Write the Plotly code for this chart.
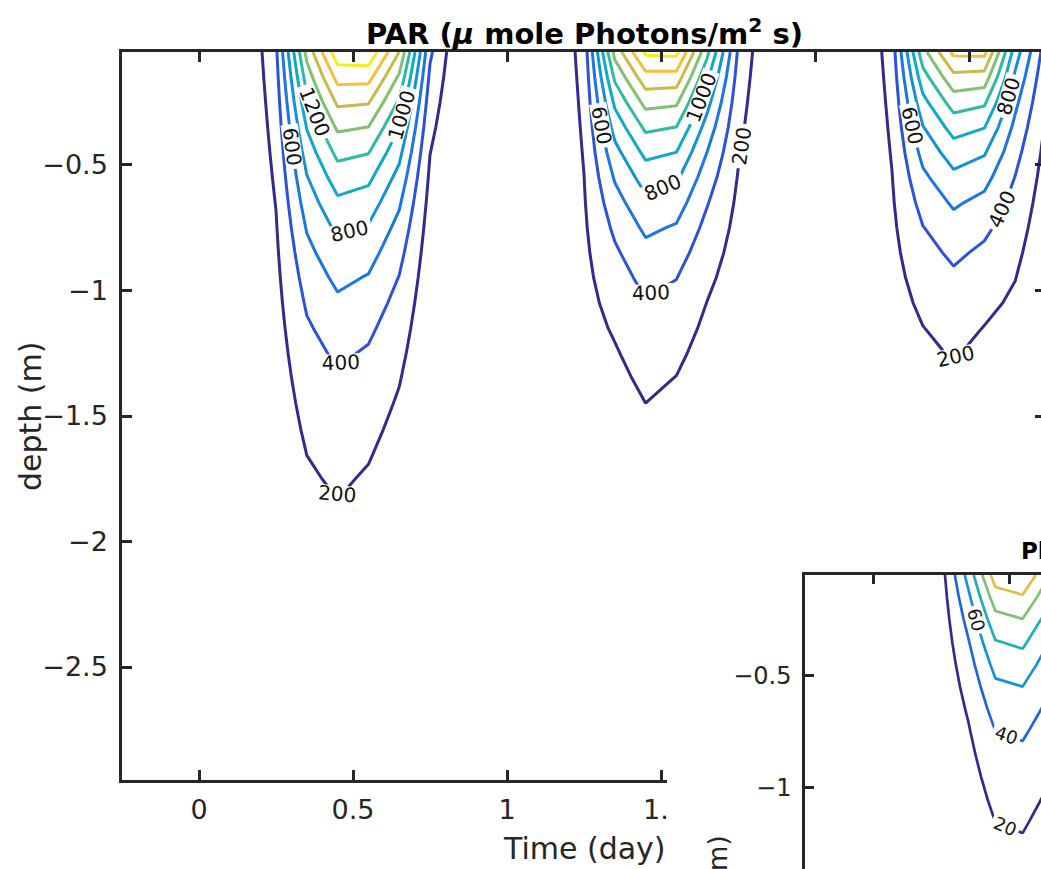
import numpy as np
import plotly.graph_objects as go

# ---------------- data ----------------
# model grid: time (day) columns and depth (m) rows
time_days = [-0.25, -0.15, -0.05, 0.05, 0.15, 0.25, 0.35, 0.45, 0.55, 0.65, 0.75,
             0.85, 0.95, 1.05, 1.15, 1.25, 1.35, 1.45, 1.55, 1.65, 1.75,
             1.85, 1.95, 2.05, 2.15, 2.25, 2.35, 2.45, 2.55, 2.65, 2.75]
depth_m = [-0.05, -0.15, -0.25, -0.35, -0.45, -0.55, -0.65, -0.75, -0.85, -0.95,
           -1.05, -1.15, -1.25, -1.35, -1.45, -1.55, -1.65, -1.75, -1.85, -1.95,
           -2.05, -2.15, -2.25, -2.35, -2.45, -2.55, -2.65, -2.75, -2.85, -2.95]
# PAR in the top model layer for each time column (umol photons m-2 s-1)
surface_par = [0, 0, 0, 0, 0, 366, 1466, 2136, 2159, 1600, 435,
               0, 0, 0, 0, 281, 1471, 2040, 2060, 1250, 380,
               0, 0, 0, 0, 300, 1330, 1850, 1860, 900, 300]
# light attenuation coefficient for each time column (1/m)
attenuation = [1.5, 1.5, 1.5, 1.5, 1.5, 0.96, 1.24, 1.33, 1.45, 1.56, 1.9,
               1.5, 1.5, 1.5, 1.5, 0.7, 1.73, 1.66, 1.81, 1.85, 1.37,
               1.5, 1.5, 1.5, 1.5, 0.86, 1.74, 1.8, 2.05, 1.65, 1.8]
par_levels = dict(start=200, end=2000, size=200)

# inset panel
inset_time = [-0.25, -0.15, -0.05, 0.05, 0.15, 0.25, 0.35, 0.45, 0.55, 0.65, 0.75]
inset_surface = [0, 0, 0, 0, 0, 12, 67, 131, 139, 100, 30]
inset_attenuation = [1.7, 1.7, 1.7, 1.7, 1.7, 1.8, 1.86, 1.7, 1.686, 1.75, 1.75]
inset_levels = dict(start=20, end=140, size=20)

x_ticks = [0, 0.5, 1, 1.5]
x_ticktext = ["0", "0.5", "1", " "]
y_ticks = [-2.5, -2, -1.5, -1, -0.5]
y_ticktext = ["\u22122.5", "\u22122", "\u22121.5", "\u22121", "\u22120.5"]
inset_y_ticks = [-1, -0.5]
inset_y_ticktext = ["\u22121", "\u22120.5"]

# ---------------- build grids (Beer-Lambert per column) ----------------
d = np.array(depth_m)
def grid(surf, katt):
    s = np.array(surf, float)
    k = np.array(katt, float)
    return s[None, :] * np.exp(-k[None, :] * (-d[:, None] - 0.05))

Z = grid(surface_par, attenuation)
Zi = grid(inset_surface, inset_attenuation)

line_colors = ["#342a8e", "#2a52da", "#1b75e3", "#1592d6", "#0eaac6",
               "#2fbaa4", "#80c172", "#c8bb4a", "#f8be3b", "#f5ec1e"]
parula = [[i / (len(line_colors) - 1), c] for i, c in enumerate(line_colors)]

FONT = "DejaVu Sans"
AX = "#262626"
W, H = 1041, 869
def px(x):
    return x / W
def py(y):
    return 1 - y / H

fig = go.Figure()
fig.add_trace(go.Contour(
    x=time_days, y=depth_m, z=Z, xaxis="x", yaxis="y",
    colorscale=parula, zmin=200, zmax=2000, zauto=False, showscale=False,
    contours=dict(coloring="lines", showlabels=True,
                  labelfont=dict(family=FONT, size=20, color="#111111"),
                  **par_levels),
    line=dict(width=3, smoothing=0), hoverinfo="skip"))
fig.add_trace(go.Contour(
    x=inset_time, y=depth_m, z=Zi, xaxis="x2", yaxis="y2",
    colorscale=parula, zmin=20, zmax=150, zauto=False, showscale=False,
    contours=dict(coloring="lines", showlabels=True,
                  labelfont=dict(family=FONT, size=18, color="#111111"),
                  **inset_levels),
    line=dict(width=2.7, smoothing=0), hoverinfo="skip"))
# empty traces so that the helper axes get drawn
fig.add_trace(go.Scatter(x=[None], y=[None], xaxis="x3", yaxis="y", hoverinfo="skip"))
fig.add_trace(go.Scatter(x=[None], y=[None], xaxis="x", yaxis="y3", hoverinfo="skip"))

main_xdom = [px(122), 1.0]
main_ydom = [py(780), py(52)]
axcommon = dict(showgrid=False, zeroline=False, linecolor=AX, linewidth=2.5,
                tickcolor=AX, ticks="inside", tickwidth=2.5)

fig.update_layout(
    width=W, height=H, margin=dict(l=0, r=0, t=0, b=0),
    paper_bgcolor="white", plot_bgcolor="rgba(0,0,0,0)", showlegend=False,
    font=dict(family=FONT, color=AX),
    xaxis=dict(domain=main_xdom, range=[-0.25, (W - 199) / 308], side="top",
               anchor="y", showline=True, tickvals=[0, 0.5, 1, 1.5, 2, 2.5],
               showticklabels=False, ticklen=10, **axcommon),
    yaxis=dict(domain=main_ydom, range=[-2.95, -0.05], anchor="x",
               showline=True, tickvals=y_ticks, ticktext=y_ticktext, ticklen=10,
               tickfont=dict(size=27), ticklabelstandoff=6, **axcommon),
    xaxis3=dict(domain=[px(122), px(667)], range=[-0.25, (667 - 199) / 308],
                anchor="y", side="bottom", showline=True, tickvals=x_ticks,
                ticktext=x_ticktext, ticklen=10, tickfont=dict(size=27),
                ticklabelstandoff=4, **axcommon),
    yaxis3=dict(overlaying="y", anchor="free", position=1.0, side="right",
                range=[-2.95, -0.05], showline=False, tickvals=[-1.5, -1, -0.5],
                showticklabels=False, ticklen=6, showgrid=False, zeroline=False,
                ticks="inside", tickcolor=AX, tickwidth=2.5),
    xaxis2=dict(domain=[px(805), 1.0], range=[-0.25, (W - 873) / 272], side="top",
                anchor="y2", showline=True, tickvals=[0, 0.5],
                showticklabels=False, ticklen=9, **axcommon),
    yaxis2=dict(domain=[0, py(575)], range=[-0.05 - (H - 575) / 224, -0.05],
                anchor="x2", showline=True, tickvals=inset_y_ticks,
                ticktext=inset_y_ticktext, ticklen=9, tickfont=dict(size=24),
                ticklabelstandoff=6, **axcommon),
)

ann = [
    dict(text="<b>PAR (<i>\u03bc</i> mole Photons/m<sup>2</sup> s)</b>", x=px(584), y=py(32),
         font=dict(size=29, color="#000000")),
    dict(text="Time (day)", x=px(584), y=py(848), font=dict(size=30, color=AX)),
    dict(text="depth (m)", x=px(30), y=py(416), textangle=-90, font=dict(size=30, color=AX)),
    dict(text="1.", x=px(641), y=py(809), xanchor="left", font=dict(size=27, color=AX)),
    dict(text="<b>Pl</b>", x=px(1019), y=py(551), xanchor="left", font=dict(size=23, color="#000000")),
    dict(text="depth (m)", x=px(718), y=(H - 900) / H, textangle=-90, font=dict(size=26, color=AX)),
]
for a in ann:
    a.setdefault("xanchor", "center")
    fig.add_annotation(xref="paper", yref="paper", showarrow=False, yanchor="middle", **a)

fig.write_html("out.html")
